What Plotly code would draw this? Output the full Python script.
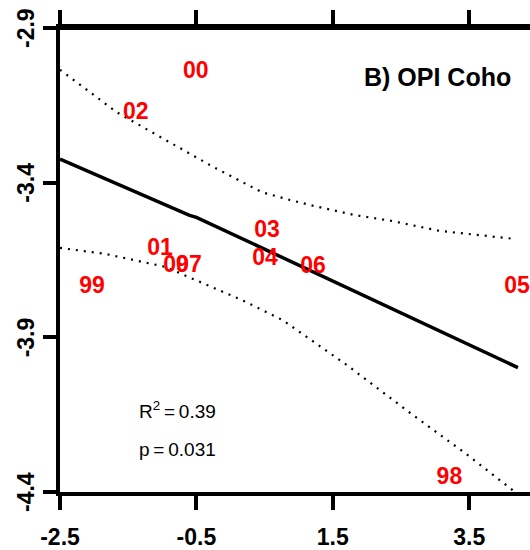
import plotly.graph_objects as go

# Data
years = ["00", "02", "03", "01", "09", "07", "04", "06", "99", "05", "98"]
opi_x = [-0.51, -1.39, 0.535, -1.034, -0.80, -0.61, 0.506, 1.21, -2.03, 4.20, 3.21]
surv_y = [-3.043, -3.177, -3.557, -3.614, -3.669, -3.669, -3.647, -3.672, -3.738, -3.738, -4.355]

fit_x = [-2.5, -1.0, -0.75, -0.6, -0.5, 4.215]
fit_y = [-3.324, -3.466, -3.490, -3.506, -3.512, -3.998]

upper_x = [-2.5, -1.664, -0.271, 0.462, 0.872, 1.239, 1.826, 2.368, 3.072, 4.172]
upper_y = [-3.035, -3.173, -3.347, -3.431, -3.456, -3.476, -3.505, -3.524, -3.556, -3.582]

lower_x = [-2.5, -1.840, -0.960, -0.330, 0.183, 0.770, 1.708, 2.632, 3.468, 4.142]
lower_y = [-3.611, -3.630, -3.672, -3.733, -3.781, -3.845, -3.990, -4.144, -4.279, -4.395]

x_ticks = [-2.5, -0.5, 1.5, 3.5]
y_ticks = [-2.9, -3.4, -3.9, -4.4]

FONT = "Liberation Sans, Arial, sans-serif"

fig = go.Figure()
for bx, by in [(upper_x, upper_y), (lower_x, lower_y)]:
    fig.add_trace(go.Scatter(x=bx, y=by, mode="lines",
                             line=dict(color="black", width=2.2, dash="2px,6px"),
                             hoverinfo="skip", showlegend=False))
fig.add_trace(go.Scatter(x=fit_x, y=fit_y, mode="lines",
                         line=dict(color="black", width=3.5),
                         showlegend=False))
fig.add_trace(go.Scatter(x=opi_x, y=surv_y, mode="text", text=years,
                         textposition="middle center",
                         textfont=dict(family=FONT, size=23, color="#ff0000", weight="bold"),
                         cliponaxis=False, showlegend=False))

fig.add_annotation(x=3.028, y=-3.058, text="<b>B) OPI Coho</b>", showarrow=False,
                   font=dict(family=FONT, size=25, color="black"))
fig.add_annotation(x=-0.77, y=-4.135, text="R<sup>2</sup>\u2009=\u20090.39", showarrow=False,
                   font=dict(family=FONT, size=19, color="black"))
fig.add_annotation(x=-0.77, y=-4.263, text="p\u2009=\u20090.031", showarrow=False,
                   font=dict(family=FONT, size=19, color="black"))

# rotated y tick labels placed at their tick values
for v in y_ticks:
    fig.add_annotation(xref="paper", x=0, y=v, yref="y", text=f"<b>{v:g}</b>",
                       textangle=-90, showarrow=False, xanchor="center",
                       xshift=-34, font=dict(family=FONT, size=23, color="black"))

# top frame line of the plot box, as a thin filled band at the top edge
fig.add_shape(type="rect", xref="paper", yref="paper", x0=0, x1=1,
              y0=1 - 2 / 466, y1=1 + 2 / 466,
              fillcolor="black", line=dict(width=0), layer="above")

fig.update_layout(
    width=530, height=550,
    margin=dict(l=60, r=0, t=28, b=56),
    plot_bgcolor="white", paper_bgcolor="white",
    showlegend=False,
    xaxis=dict(range=[-2.5, -2.5 + 470 / 68.2], tickvals=x_ticks,
               ticktext=[f"{v:g}" for v in x_ticks],
               showgrid=False, zeroline=False, showline=True, linecolor="black",
               linewidth=4, mirror="all", ticks="outside", ticklen=14, tickwidth=4,
               tickcolor="black", ticklabelstandoff=7,
               tickfont=dict(family=FONT, size=23, color="black", weight="bold")),
    yaxis=dict(range=[-4.4, -2.9], tickvals=y_ticks, showticklabels=False,
               showgrid=False, zeroline=False, showline=True, linecolor="black",
               linewidth=4, ticks="outside", ticklen=13, tickwidth=4,
               tickcolor="black"),
)

# remove the default 8px page margin so the figure sits at the window origin
fig.write_html(
    "out.html",
    config={"displayModeBar": False},
    post_script="document.body.style.margin='0';",
)
